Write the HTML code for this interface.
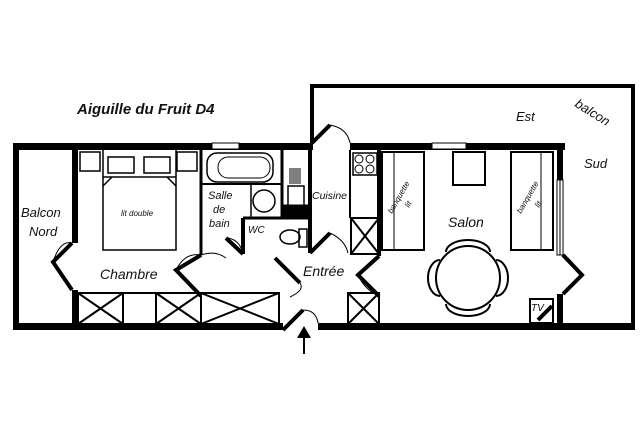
<!DOCTYPE html>
<html><head><meta charset="utf-8"><style>
html,body{margin:0;padding:0;background:#fff;width:640px;height:426px;overflow:hidden}
text{font-family:"Liberation Sans",sans-serif;font-style:italic;fill:#111}
</style></head><body>
<svg width="640" height="426" viewBox="0 0 640 426" xmlns="http://www.w3.org/2000/svg">
<g fill="none" stroke="#000">
<!-- big balcony -->
<path d="M312 143 V86 H633 V328" stroke-width="4"/>
<!-- outer walls -->
<rect x="13" y="143" width="6" height="187" fill="#000" stroke="none"/>
<rect x="13" y="143" width="300" height="7" fill="#000" stroke="none"/>
<rect x="350" y="143" width="215" height="7" fill="#000" stroke="none"/>
<rect x="13" y="323" width="270" height="7" fill="#000" stroke="none"/>
<rect x="318" y="323" width="317" height="7" fill="#000" stroke="none"/>
<rect x="72" y="143" width="6" height="100" fill="#000" stroke="none"/>
<rect x="72" y="290" width="6" height="40" fill="#000" stroke="none"/>
<rect x="557" y="143" width="6" height="37" fill="#000" stroke="none"/>
<rect x="557" y="294" width="6" height="36" fill="#000" stroke="none"/>
<rect x="557" y="180" width="6" height="75" stroke-width="1"/>
<line x1="560" y1="180" x2="560" y2="255" stroke-width="1"/>
<!-- windows -->
<rect x="212" y="143" width="27" height="6" fill="#fff" stroke-width="1"/>
<rect x="432" y="143" width="34" height="6" fill="#fff" stroke-width="1"/>
<!-- interior walls -->
<path d="M201 150 V255" stroke-width="3"/>
<path d="M201 184 H283" stroke-width="2"/>
<path d="M282 150 V218" stroke-width="3"/>
<path d="M283 205 H310 V217 H283 Z" fill="#000"/>
<path d="M243 218 H310" stroke-width="3"/>
<path d="M243 218 V254" stroke-width="4"/>
<path d="M310 150 V253" stroke-width="4"/>
<path d="M379 150 V256" stroke-width="4"/>
<path d="M350 150 V218" stroke-width="2"/>
<!-- bathroom -->
<rect x="207" y="153" width="66" height="29" rx="10" stroke-width="1.5"/>
<rect x="218" y="157" width="52" height="21" rx="10" stroke-width="1"/>
<rect x="251" y="184" width="31" height="34" stroke-width="1.5"/>
<circle cx="264" cy="201" r="11" stroke-width="1.5"/>
<rect x="288" y="186" width="16" height="20" stroke-width="1.5"/>
<path d="M290 168 V184 M292 168 V184 M294 168 V184 M296 168 V184 M298 168 V184 M300 168 V184" stroke-width="1"/>
<!-- WC -->
<ellipse cx="290" cy="237" rx="10" ry="7" stroke-width="1.5"/>
<rect x="299" y="229" width="8" height="18" stroke-width="1.5"/>
<!-- kitchen -->
<rect x="353" y="153" width="24" height="22" stroke-width="1.5"/>
<circle cx="359" cy="159" r="4"/><circle cx="370" cy="159" r="4"/><circle cx="359" cy="169" r="4"/><circle cx="370" cy="169" r="4"/>
<g stroke-width="2">
<rect x="351" y="218" width="28" height="36"/><path d="M351 218 L379 254 M379 218 L351 254"/>
<rect x="348" y="293" width="31" height="31"/><path d="M348 293 L379 324 M379 293 L348 324"/>
<!-- bedroom closets -->
<rect x="78" y="293" width="45" height="31"/><path d="M78 293 L123 324 M123 293 L78 324"/>
<rect x="123" y="293" width="33" height="31"/>
<rect x="156" y="293" width="45" height="31"/><path d="M156 293 L201 324 M201 293 L156 324"/>
<rect x="201" y="293" width="78" height="31"/><path d="M201 293 L279 324 M279 293 L201 324"/>
</g>
<!-- bed -->
<g stroke-width="1.5">
<rect x="80" y="152" width="20" height="19"/>
<rect x="177" y="152" width="20" height="19"/>
<path d="M103 150 V250 H176 V150"/>
<path d="M103 177 H176"/>
<rect x="108" y="157" width="26" height="16"/>
<rect x="144" y="157" width="26" height="16"/>
<path d="M103 186 L112 177 M176 186 L167 177"/>
</g>
<!-- salon -->
<g stroke-width="2">
<rect x="382" y="152" width="42" height="98"/><line x1="394" y1="152" x2="394" y2="250" stroke-width="1"/>
<rect x="511" y="152" width="42" height="98"/><line x1="541" y1="152" x2="541" y2="250" stroke-width="1"/>
<rect x="453" y="152" width="32" height="33"/>
<path d="M446 252 a22 12 0 0 1 44 0" /><path d="M446 304 a22 12 0 0 0 44 0"/>
<path d="M440 260 a12 18 0 0 0 0 36" /><path d="M496 260 a12 18 0 0 1 0 36"/>
<circle cx="468" cy="278" r="32" fill="#fff"/>
<rect x="530" y="299" width="23" height="24"/>
</g>
<path d="M538 320 L552 306" stroke-width="4"/>
<!-- doors -->
<g stroke-width="4">
<path d="M72 243 L53 262 L72 290"/>
<path d="M201 255 L176 270 L201 296"/>
<path d="M243 254 L226 238"/>
<path d="M275 258 L300 283"/>
<path d="M310 253 L330 233"/>
<path d="M379 256 L358 275 L379 296"/>
<path d="M563 255 L582 275 L563 294"/>
<path d="M283 330 L303 310"/>
<path d="M312 143 L330 125"/>
</g>
<g stroke-width="1">
<path d="M53 262 Q60 240 72 243"/>
<path d="M176 270 Q185 252 201 255"/>
<path d="M228 238 Q240 240 243 254"/>
<path d="M300 283 Q305 290 290 297"/>
<path d="M330 233 Q345 240 348 253"/>
<path d="M358 275 Q365 290 379 296"/>
<path d="M582 275 Q570 258 563 255"/>
<path d="M303 310 Q316 310 318 323"/>
<path d="M330 125 Q347 128 350 143"/>
<path d="M201 255 Q215 250 226 258"/>
</g>
<!-- arrow -->
<path d="M304 354 V334" stroke-width="2"/>
</g>
<path d="M297 338 L304 326 L311 338 Z" fill="#000"/>
<text x="77" y="114" font-size="15" font-weight="bold">Aiguille du Fruit D4</text>
<text x="21" y="217" font-size="13">Balcon</text>
<text x="29" y="236" font-size="13">Nord</text>
<text x="121" y="216" font-size="8">lit double</text>
<text x="100" y="279" font-size="14">Chambre</text>
<text x="208" y="199" font-size="11">Salle</text>
<text x="213" y="213" font-size="11">de</text>
<text x="209" y="227" font-size="11">bain</text>
<text x="248" y="233" font-size="10">WC</text>
<text x="312" y="199" font-size="10.5">Cuisine</text>
<text x="303" y="276" font-size="14">Entrée</text>
<text x="448" y="227" font-size="14">Salon</text>
<text x="516" y="121" font-size="13">Est</text>
<text x="584" y="168" font-size="13">Sud</text>
<text x="0" y="0" font-size="13" transform="translate(574,106) rotate(32)">balcon</text>
<text x="0" y="0" font-size="8" transform="translate(392,214) rotate(-60)">banquette</text>
<text x="0" y="0" font-size="8" transform="translate(409,208) rotate(-60)">lit</text>
<text x="0" y="0" font-size="8" transform="translate(521,214) rotate(-60)">banquette</text>
<text x="0" y="0" font-size="8" transform="translate(539,208) rotate(-60)">lit</text>
<text x="531" y="311" font-size="10">TV</text>
</svg>
</body></html>
